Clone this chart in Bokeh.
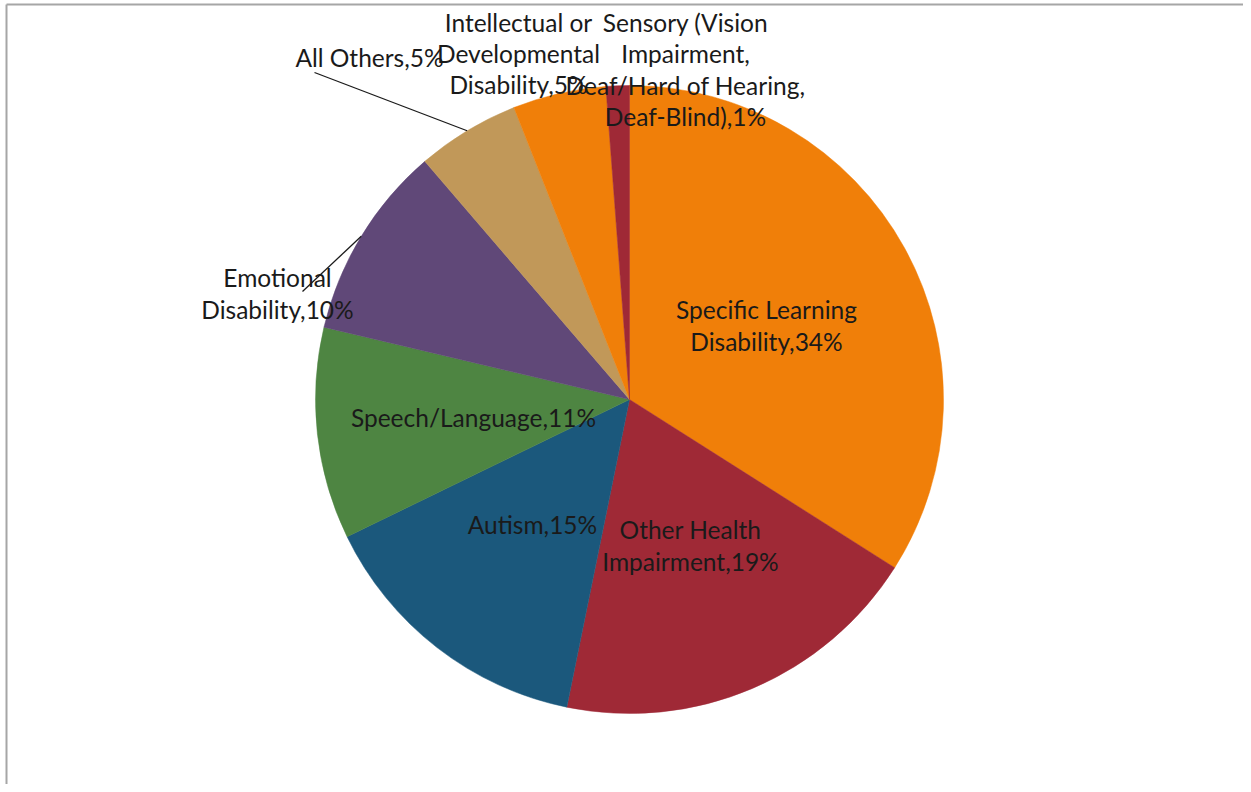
import math
from bokeh.plotting import figure
from bokeh.models import ColumnDataSource, Range1d
from bokeh.core.properties import value
from bokeh.embed import file_html
from bokeh.resources import INLINE

# ---- data ----
categories = [
    "Specific Learning Disability",
    "Other Health Impairment",
    "Autism",
    "Speech/Language",
    "Emotional Disability",
    "All Others",
    "Intellectual or Developmental Disability",
    "Sensory (Vision Impairment, Deaf/Hard of Hearing, Deaf-Blind)",
]
shares = [34.0, 19.2, 14.6, 10.9, 10.0, 5.3, 4.8, 1.2]
label_names = [
    "Specific Learning\nDisability",
    "Other Health\nImpairment",
    "Autism",
    "Speech/Language",
    "Emotional\nDisability",
    "All Others",
    "Intellectual or\nDevelopmental\nDisability",
    "Sensory (Vision\nImpairment,\nDeaf/Hard of Hearing,\nDeaf-Blind)",
]
colors = ["#F07F09", "#9F2936", "#1B587C", "#4E8542", "#604878", "#C19859", "#F07F09", "#9F2936"]

# ---- layout (picture pixel positions) ----
W, H = 1243, 784
def ty(py):
    return H - py + 1

cx, cy, r = 630, ty(400), 314
label_pos = [(767, 326), (691, 546), (533, 525), (474, 418), (278, 294), (370, 58), (519, 54), (686, 70)]
leader_from = {4: (303, 292), 5: (315, 73)}

p = figure(width=W, height=H, x_range=Range1d(1, 1 + W), y_range=Range1d(0, H),
           output_backend="svg", toolbar_location=None, min_border=0,
           x_axis_location=None, y_axis_location=None)
p.grid.visible = False
p.outline_line_color = None
p.background_fill_color = "white"
p.border_fill_color = "white"

total = sum(shares)
starts, ends, mids = [], [], []
acc = 0.0
for s in shares:
    t0 = acc / total * 2 * math.pi
    acc += s
    t1 = acc / total * 2 * math.pi
    starts.append(math.pi / 2 - t1)
    ends.append(math.pi / 2 - t0)
    mids.append((t0 + t1) / 2)

src = ColumnDataSource(dict(x=[cx] * len(shares), y=[cy] * len(shares),
                            start=starts, end=ends, color=colors))
p.wedge(x="x", y="y", radius=r, start_angle="start", end_angle="end",
        fill_color="color", line_color="color", line_width=0.5, source=src)

# leader lines
for i, (lx, ly) in leader_from.items():
    ex = cx + r * math.sin(mids[i])
    ey = cy + r * math.cos(mids[i])
    p.line([lx, ex], [ty(ly), ey], line_color="#1a1a1a", line_width=1.3)

texts = [f"{n},{round(s)}%" for n, s in zip(label_names, shares)]
lsrc = ColumnDataSource(dict(x=[a for a, b in label_pos], y=[ty(b) for a, b in label_pos], t=texts))
p.text(x="x", y="y", text="t", source=lsrc, text_font=value("Lato"),
       text_font_size="24.5px", text_color="#1a1a1a", text_align="center",
       text_baseline="middle", text_line_height=1.07)

# chart frame (left and top edges visible)
p.line([7, 1 + W], [ty(5), ty(5)], line_color="#A6A6A6", line_width=2)
p.line([7, 7], [0, ty(5)], line_color="#A6A6A6", line_width=2)

open("out.html", "w").write(file_html(p, INLINE))
